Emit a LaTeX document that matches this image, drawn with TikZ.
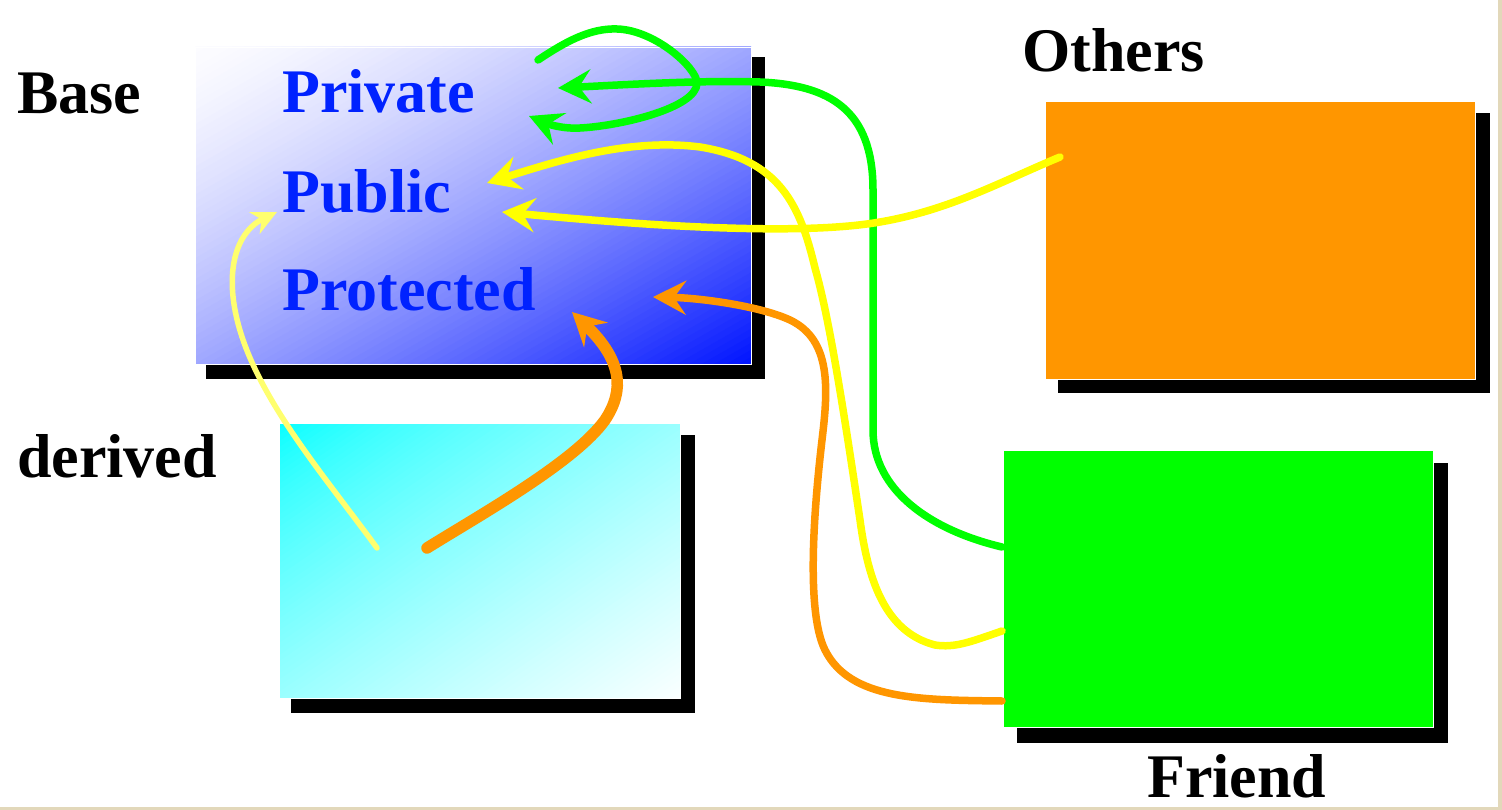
\documentclass[tikz,border=0pt]{standalone}
\usepackage{fontspec}
\setmainfont{Liberation Serif}
\usetikzlibrary{arrows.meta}
\definecolor{txtblue}{RGB}{0,34,255}
\definecolor{deepblue}{RGB}{0,20,255}
\definecolor{paleblue}{RGB}{252,252,255}
\definecolor{cyanA}{RGB}{0,255,255}
\definecolor{cyanB}{RGB}{250,255,255}
\definecolor{boxorange}{RGB}{255,150,0}
\definecolor{boxgreen}{RGB}{0,255,0}
\definecolor{lineyellow}{RGB}{255,255,0}
\definecolor{paleyellow}{RGB}{255,255,110}
\definecolor{lineorange}{RGB}{255,150,0}
\definecolor{frameedge}{RGB}{226,216,186}
% diagonal gradient: x0 y0 w h start-colour end-colour exponent
\newcommand\diaggrad[7]{%
  \begin{scope}
  \clip (#1,#2) rectangle ++(#3,#4);
  \foreach \i in {0,...,89}{%
    \pgfmathsetmacro\ta{2*\i/90}%
    \pgfmathsetmacro\tb{2*(\i+1.6)/90}%
    \pgfmathsetmacro\pc{100*((\i+0.5)/90)^#7}%
    \fill[#6!\pc!#5] ({#1+\ta*#3+2*#3},{#2-2*#4}) -- ({#1+\ta*#3-2*#3},{#2+2*#4})
      -- ({#1+\tb*#3-2*#3},{#2+2*#4}) -- ({#1+\tb*#3+2*#3},{#2-2*#4}) -- cycle;
  }
  \end{scope}}
\begin{document}
\begin{tikzpicture}[x=1pt,y=-1pt,
  lbl/.style={anchor=base west,inner sep=0pt,font=\fontsize{62}{70}\selectfont\bfseries},
  member/.style={lbl,text=txtblue},
  panel/.style={anchor=north west,inner sep=0pt,draw=white,line width=1pt},
  tipA/.style={-{Stealth[length=33pt,width=34pt,inset=12pt]}},
  tipB/.style={-{Stealth[length=25pt,width=24pt,inset=8pt]}},
  conn/.style={line width=7.5pt,line cap=round}]
\useasboundingbox (0,0) rectangle (1502,810);
\fill[white] (0,0) rectangle (1502,810);
\fill[frameedge] (1498,0) rectangle (1502,810);
\fill[frameedge] (0,807) rectangle (1502,810);

% shadows
\fill[black] (206,57) rectangle (765,379);
\fill[black] (291,435) rectangle (695,713);
\fill[black] (1058,113) rectangle (1490,393);
\fill[black] (1017,463) rectangle (1448,743);

% gradients
\diaggrad{195}{47}{556}{317}{paleblue}{deepblue}{1.45}
\diaggrad{279}{423}{401}{275}{cyanA}{cyanB}{0.7}

% boxes
\node[panel,minimum width=556pt,minimum height=317pt] (base) at (195,47) {};
\node[panel,minimum width=401pt,minimum height=275pt] (derived) at (279,423) {};
\node[panel,minimum width=430pt,minimum height=278pt,fill=boxorange] (others) at (1045,101) {};
\node[panel,minimum width=430pt,minimum height=277pt,fill=boxgreen] (friend) at (1003,450) {};

% labels
\node[lbl] (baseL) at (17,114) {Base};
\node[lbl] (derivedL) at (17,477) {derived};
\node[lbl] (othersL) at (1022,72) {Others};
\node[lbl] (friendL) at (1147,797) {Friend};
\node[member] (private) at (282,113) {Private};
\node[member] (public) at (282,213) {Public};
\node[member] (protected) at (282,311) {Protected};

% connector end points
\coordinate (fG) at (1002,547);
\coordinate (fY) at (1002,631);
\coordinate (fO) at (1002,701);
\coordinate (oY) at (1060,157);
\coordinate (dY) at (377,548);
\coordinate (dO) at (427,548);
\coordinate (loopS) at (538,60);
\coordinate (privT) at (558,88);
\coordinate (privT2) at (529,116);
\coordinate (pubT1) at (487,183);
\coordinate (pubT2) at (502,212);
\coordinate (pubT3) at (277,212);
\coordinate (protT1) at (653,297);
\coordinate (protT2) at (572,312);

% green: friend -> private
\draw[conn,boxgreen,tipA] (fG) .. controls (930,530) and (873,490) .. (873,430)
  -- (873,190) .. controls (873,110) and (830,85) .. (760,82)
  .. controls (700,80) and (620,85) .. (privT);
% green loop on private
\draw[conn,boxgreen,tipA] (loopS) .. controls (565,42) and (590,28) .. (617,29)
  .. controls (655,30) and (697,68) .. (697,83)
  .. controls (697,108) and (620,126) .. (580,128)
  .. controls (562,129) and (548,124) .. (privT2);
% yellow: friend -> public
\draw[conn,lineyellow,tipA] (fY) .. controls (970,642) and (955,648) .. (935,645)
  .. controls (885,632) and (868,580) .. (860,520)
  .. controls (845,420) and (830,320) .. (815,268)
  .. controls (800,205) and (780,160) .. (700,147)
  .. controls (630,138) and (560,160) .. (pubT1);
% yellow: others -> public
\draw[conn,lineyellow,tipA] (oY) .. controls (1000,182) and (950,210) .. (880,222)
  .. controls (800,236) and (650,226) .. (pubT2);
% orange: friend -> protected
\draw[conn,lineorange,tipA] (fO) .. controls (920,700) and (850,700) .. (825,650)
  .. controls (805,610) and (815,500) .. (822,440)
  .. controls (828,390) and (832,340) .. (790,320)
  .. controls (760,306) and (700,298) .. (protT1);
% orange thick: derived -> protected
\draw[line width=11.5pt,line cap=round,lineorange,tipA] (dO) .. controls (480,515) and (575,462) .. (605,420)
  .. controls (625,390) and (622,360) .. (protT2);
% pale yellow: derived -> public
\draw[line width=5.5pt,line cap=round,paleyellow,tipB] (dY) .. controls (320,470) and (250,390) .. (235,310)
  .. controls (226,262) and (240,230) .. (pubT3);
\end{tikzpicture}
\end{document}
